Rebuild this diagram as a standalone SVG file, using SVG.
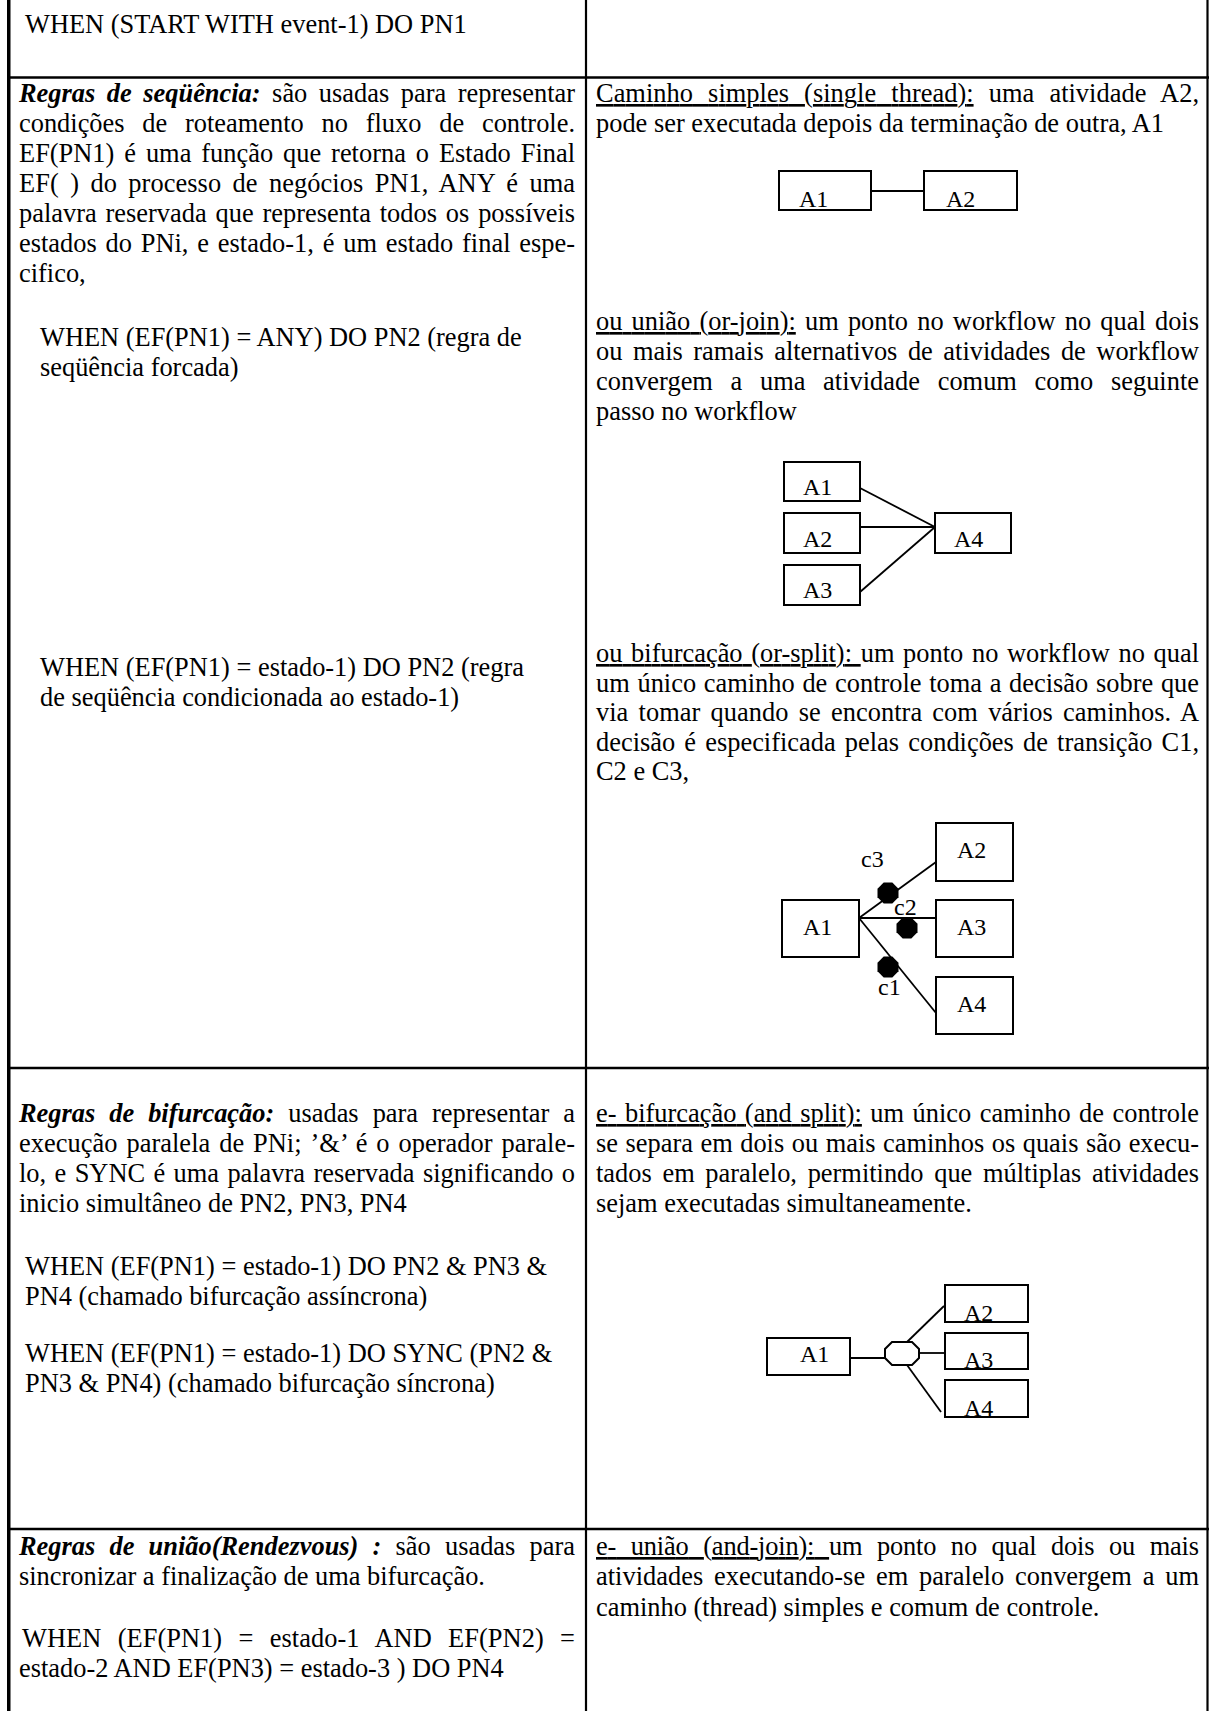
<svg xmlns="http://www.w3.org/2000/svg" width="1210" height="1711" viewBox="0 0 1210 1711">
<style>
.t{font-family:"Liberation Serif","Times New Roman",serif;font-size:26.4px;fill:#000}
.bi{font-weight:bold;font-style:italic}
.u{text-decoration:underline}
.lbl{font-family:"Liberation Serif","Times New Roman",serif;font-size:24px;fill:#000}
.box{fill:#fff;stroke:#000;stroke-width:2}
.edge{stroke:#000;stroke-width:1.8;fill:none}
.grid{stroke:#000;stroke-width:2.2;fill:none}
.dot{fill:#000}
</style>
<defs>
<polygon id="oct" points="-4.3,-10.5 4.3,-10.5 10.5,-4.3 10.5,4.3 4.3,10.5 -4.3,10.5 -10.5,4.3 -10.5,-4.3"/>
</defs>
<rect x="0" y="0" width="1210" height="1711" fill="#fff"/>

<g id="table">
<line class="grid" x1="8.75" y1="0" x2="8.75" y2="1711" style="stroke-width:3.5"/>
<line class="grid" x1="586" y1="0" x2="586" y2="1711"/>
<line class="grid" x1="1207.5" y1="0" x2="1207.5" y2="1711"/>
<line class="grid" x1="7" y1="77.5" x2="1209" y2="77.5" style="stroke-width:2.6"/>
<line class="grid" x1="7" y1="1068" x2="1209" y2="1068" style="stroke-width:2.6"/>
<line class="grid" x1="7" y1="1529" x2="1209" y2="1529" style="stroke-width:2.6"/>
</g>

<g id="left-text">
<text class="t" x="25" y="33">WHEN (START WITH event-1) DO PN1</text>

<text class="t" x="19" y="102" textLength="556" lengthAdjust="spacing" style="word-spacing:4.9px"><tspan class="bi">Regras de seqüência:</tspan> são usadas para representar</text>
<text class="t" x="19" y="132" textLength="556" lengthAdjust="spacing" style="word-spacing:11.2px">condições de roteamento no fluxo de controle.</text>
<text class="t" x="19" y="162" textLength="556" lengthAdjust="spacing" style="word-spacing:3.3px">EF(PN1) é uma função que retorna o Estado Final</text>
<text class="t" x="19" y="192" textLength="556" lengthAdjust="spacing" style="word-spacing:4.76px">EF( ) do processo de negócios PN1, ANY é uma</text>
<text class="t" x="19" y="222" textLength="556" lengthAdjust="spacing" style="word-spacing:2.25px">palavra reservada que representa todos os possíveis</text>
<text class="t" x="19" y="252" textLength="556" lengthAdjust="spacing" style="word-spacing:2.2px">estados do PNi, e estado-1, é um estado final espe-</text>
<text class="t" x="19" y="282">cifico,</text>

<text class="t" x="40" y="346">WHEN (EF(PN1) = ANY) DO PN2 (regra de</text>
<text class="t" x="40" y="376">seqüência forcada)</text>

<text class="t" x="40" y="676">WHEN (EF(PN1) = estado-1) DO PN2 (regra</text>
<text class="t" x="40" y="706">de seqüência condicionada ao estado-1)</text>

<text class="t" x="19" y="1122" textLength="556" lengthAdjust="spacing" style="word-spacing:7.4px"><tspan class="bi">Regras de bifurcação:</tspan> usadas para representar a</text>
<text class="t" x="19" y="1152" textLength="556" lengthAdjust="spacing" style="word-spacing:2.24px">execução paralela de PNi; ’&amp;’ é o operador parale-</text>
<text class="t" x="19" y="1182" textLength="556" lengthAdjust="spacing" style="word-spacing:1.8px">lo, e SYNC é uma palavra reservada significando o</text>
<text class="t" x="19" y="1212">inicio simultâneo de PN2, PN3, PN4</text>

<text class="t" x="25" y="1275">WHEN (EF(PN1) = estado-1) DO PN2 &amp; PN3 &amp;</text>
<text class="t" x="25" y="1305">PN4 (chamado bifurcação assíncrona)</text>
<text class="t" x="25" y="1362">WHEN (EF(PN1) = estado-1) DO SYNC (PN2 &amp;</text>
<text class="t" x="25" y="1392">PN3 &amp; PN4) (chamado bifurcação síncrona)</text>

<text class="t" x="19" y="1555" textLength="556" lengthAdjust="spacing" style="word-spacing:7.6px"><tspan class="bi">Regras de união(Rendezvous) :</tspan> são usadas para</text>
<text class="t" x="19" y="1585">sincronizar a finalização de uma bifurcação.</text>
<text class="t" x="22" y="1647" textLength="553" lengthAdjust="spacing" style="word-spacing:9.7px">WHEN (EF(PN1) = estado-1 AND EF(PN2) =</text>
<text class="t" x="19" y="1677">estado-2 AND EF(PN3) = estado-3 ) DO PN4</text>
</g>

<g id="right-text">
<text class="t" x="596" y="102" textLength="603" lengthAdjust="spacing" style="word-spacing:8.5px"><tspan class="u">Caminho simples (single thread):</tspan> uma atividade A2,</text>
<text class="t" x="596" y="132">pode ser executada depois da terminação de outra, A1</text>

<text class="t" x="596" y="330" textLength="603" lengthAdjust="spacing" style="word-spacing:2.56px"><tspan class="u">ou união (or-join):</tspan> um ponto no workflow no qual dois</text>
<text class="t" x="596" y="360" textLength="603" lengthAdjust="spacing" style="word-spacing:3.9px">ou mais ramais alternativos de atividades de workflow</text>
<text class="t" x="596" y="390" textLength="603" lengthAdjust="spacing" style="word-spacing:11.05px">convergem a uma atividade comum como seguinte</text>
<text class="t" x="596" y="420">passo no workflow</text>

<text class="t" x="596" y="662" textLength="603" lengthAdjust="spacing" style="word-spacing:2.05px"><tspan class="u">ou bifurcação (or-split): </tspan>um ponto no workflow no qual</text>
<text class="t" x="596" y="691.5" textLength="603" lengthAdjust="spacing" style="word-spacing:1.09px">um único caminho de controle toma a decisão sobre que</text>
<text class="t" x="596" y="721" textLength="603" lengthAdjust="spacing" style="word-spacing:3.6px">via tomar quando se encontra com vários caminhos. A</text>
<text class="t" x="596" y="750.5" textLength="603" lengthAdjust="spacing" style="word-spacing:2.57px">decisão é especificada pelas condições de transição C1,</text>
<text class="t" x="596" y="780">C2 e C3,</text>

<text class="t" x="596" y="1122" textLength="603" lengthAdjust="spacing" style="word-spacing:1.9px"><tspan class="u">e- bifurcação (and split):</tspan> um único caminho de controle</text>
<text class="t" x="596" y="1152" textLength="603" lengthAdjust="spacing" style="word-spacing:0.9px">se separa em dois ou mais caminhos os quais são execu-</text>
<text class="t" x="596" y="1182" textLength="603" lengthAdjust="spacing" style="word-spacing:4.07px">tados em paralelo, permitindo que múltiplas atividades</text>
<text class="t" x="596" y="1212">sejam executadas simultaneamente.</text>

<text class="t" x="596" y="1555" textLength="603" lengthAdjust="spacing" style="word-spacing:8.2px"><tspan class="u">e- união (and-join): </tspan>um ponto no qual dois ou mais</text>
<text class="t" x="596" y="1585" textLength="603" lengthAdjust="spacing" style="word-spacing:4.2px">atividades executando-se em paralelo convergem a um</text>
<text class="t" x="596" y="1616">caminho (thread) simples e comum de controle.</text>
</g>

<g id="connectors">
<line class="edge" x1="871" y1="191" x2="924" y2="191"/>

<line class="edge" x1="860" y1="488" x2="935" y2="527"/>
<line class="edge" x1="860" y1="527" x2="935" y2="527"/>
<line class="edge" x1="860" y1="592" x2="935" y2="527"/>

<line class="edge" x1="859" y1="918" x2="936" y2="862"/>
<line class="edge" x1="859" y1="918" x2="936" y2="918"/>
<line class="edge" x1="859" y1="918" x2="936" y2="1013"/>

<line class="edge" x1="850" y1="1358" x2="885" y2="1358"/>
<line class="edge" x1="919" y1="1353" x2="948" y2="1353"/>
<line class="edge" x1="907" y1="1342" x2="944" y2="1306"/>
<line class="edge" x1="907" y1="1365" x2="941" y2="1412"/>
</g>

<g id="seq-A1"><rect class="box" x="779" y="171" width="92" height="39"/><text class="lbl" x="799" y="207">A1</text></g>
<g id="seq-A2"><rect class="box" x="924" y="171" width="93" height="39"/><text class="lbl" x="946" y="207">A2</text></g>

<g id="join-A1"><rect class="box" x="784" y="462" width="76" height="39"/><text class="lbl" x="803" y="495">A1</text></g>
<g id="join-A2"><rect class="box" x="784" y="513" width="76" height="40"/><text class="lbl" x="803" y="547">A2</text></g>
<g id="join-A3"><rect class="box" x="784" y="565" width="76" height="40"/><text class="lbl" x="803" y="598">A3</text></g>
<g id="join-A4"><rect class="box" x="935" y="513" width="76" height="40"/><text class="lbl" x="954" y="547">A4</text></g>

<g id="orsplit-A1"><rect class="box" x="782" y="900" width="77" height="57"/><text class="lbl" x="803" y="935">A1</text></g>
<g id="orsplit-A2"><rect class="box" x="936" y="823" width="77" height="58"/><text class="lbl" x="957" y="858">A2</text></g>
<g id="orsplit-A3"><rect class="box" x="936" y="900" width="77" height="57"/><text class="lbl" x="957" y="935">A3</text></g>
<g id="orsplit-A4"><rect class="box" x="936" y="977" width="77" height="57"/><text class="lbl" x="957" y="1012">A4</text></g>
<g id="orsplit-c3"><use href="#oct" class="dot" x="888" y="893"/><text class="lbl" x="861" y="867">c3</text></g>
<g id="orsplit-c2"><use href="#oct" class="dot" x="907" y="928"/><text class="lbl" x="894" y="915">c2</text></g>
<g id="orsplit-c1"><use href="#oct" class="dot" x="888" y="967"/><text class="lbl" x="878" y="995">c1</text></g>

<g id="andsplit-A1"><rect class="box" x="767" y="1338" width="83" height="37"/><text class="lbl" x="800" y="1362">A1</text></g>
<g id="andsplit-gate"><polygon class="box" points="892,1342 912,1342 919,1349 919,1358 912,1365 892,1365 885,1358 885,1349"/></g>
<g id="andsplit-A2"><rect class="box" x="945" y="1285" width="83" height="37"/><text class="lbl" x="964" y="1321">A2</text></g>
<g id="andsplit-A3"><rect class="box" x="945" y="1333" width="83" height="36"/><text class="lbl" x="964" y="1368">A3</text></g>
<g id="andsplit-A4"><rect class="box" x="945" y="1380" width="83" height="37"/><text class="lbl" x="964" y="1416">A4</text></g>
</svg>
